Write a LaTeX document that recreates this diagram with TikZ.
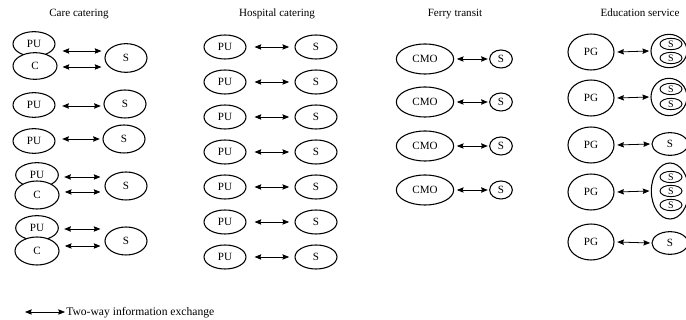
\documentclass[tikz,border=0pt]{standalone}
\usepackage{fontspec}
\setmainfont{Liberation Serif}
\usetikzlibrary{shapes.geometric,arrows.meta}

\begin{document}
\begin{tikzpicture}[x=0.75pt,y=-0.75pt,
  oval/.style={ellipse,draw,line width=0.8pt,inner sep=0pt,fill=white,font=\fontsize{8.3}{9}\selectfont},
  puoval/.style={oval,minimum width=31.5pt,minimum height=18.5pt},
  coval/.style={oval,minimum width=33pt,minimum height=20pt},
  sbig/.style={oval,minimum width=31.5pt,minimum height=21.5pt},
  hoval/.style={oval,minimum width=31.5pt,minimum height=18pt},
  cmo/.style={oval,minimum width=43pt,minimum height=22.5pt},
  ssmall/.style={oval,minimum width=17pt,minimum height=13.5pt},
  pg/.style={oval,minimum width=34.5pt,minimum height=27pt},
  sin/.style={oval,line width=0.7pt,minimum width=16.5pt,minimum height=8.5pt,font=\fontsize{7.5}{8}\selectfont},
  sgrp/.style={oval,minimum width=27pt},
  link/.style={{Stealth[length=5pt,width=4pt,inset=0.6pt]}-{Stealth[length=5pt,width=4pt,inset=0.6pt]},line width=0.6pt},
  heading/.style={font=\fontsize{8.3}{10}\selectfont}]
\useasboundingbox (0,0) rectangle (686,320);
\clip (0,0) rectangle (686,320);

% column headings
\node[heading] (tcare) at (79,14) {Care catering};
\node[heading] (thosp) at (277,14) {Hospital catering};
\node[heading] (tferry) at (455,14) {Ferry transit};
\node[heading] (tedu) at (640,13) {Education service};

% ---- Care catering ----
\node[puoval] (cp1) at (34,44) {PU};
\node[coval]  (cc1) at (35,66) {C};
\node[sbig]   (cs1) at (126,58) {S};
\draw[link] ([shift={(7,7)}]cp1.east) -- ([shift={(-3,-7)}]cs1.west);
\draw[link] ([shift={(5,1)}]cc1.east) -- ([shift={(-3,9)}]cs1.west);

\node[puoval] (cp2) at (34,105) {PU};
\node[sbig,minimum height=21pt] (cs2) at (125,104) {S};
\draw[link] ([xshift=5]cp2.east |- 0,106) -- ([xshift=-2]cs2.west |- 0,106);

\node[puoval] (cp3) at (34,141) {PU};
\node[sbig,minimum height=21pt] (cs3) at (124,139) {S};
\draw[link] ([xshift=5]cp3.east |- 0,139) -- ([xshift=-2]cs3.west |- 0,139);

\node[puoval,minimum width=32pt] (cp4) at (37,175) {PU};
\node[coval,minimum height=21pt] (cc4) at (37,195) {C};
\node[sbig,minimum height=21pt] (cs4) at (126,186) {S};
\draw[link] ([xshift=4]cp4.east |- 0,177) -- ([xshift=-3]cs4.west |- 0,177);
\draw[link] ([xshift=4]cc4.east |- 0,192) -- ([xshift=-3]cs4.west |- 0,192);

\node[puoval,minimum width=32pt] (cp5) at (37,228) {PU};
\node[coval,minimum height=21pt] (cc5) at (37,251) {C};
\node[sbig,minimum height=21pt] (cs5) at (126,241) {S};
\draw[link] ([xshift=4]cp5.east |- 0,229) -- ([xshift=-3]cs5.west |- 0,229);
\draw[link] ([xshift=4]cc5.east |- 0,246) -- ([xshift=-3]cs5.west |- 0,246);

% ---- Hospital catering ----
\foreach \i/\y in {1/47,2/82,3/117,4/152,5/187,6/222,7/257}{
  \node[hoval] (hp\i) at (225,\y) {PU};
  \node[hoval] (hs\i) at (316,\y) {S};
  \draw[link] ([xshift=6]hp\i.east) -- ([xshift=-4]hs\i.west);
}

% ---- Ferry transit ----
\foreach \i/\y in {1/59,2/102,3/146,4/190}{
  \node[cmo] (fc\i) at (425,\y) {CMO};
  \node[ssmall] (fs\i) at (501,\y) {S};
  \draw[link] ([xshift=2]fc\i.east) -- ([xshift=-1]fs\i.west);
}

% ---- Education service ----
\foreach \i/\y in {1/52,2/98,3/145,4/192,5/242}{
  \node[pg] (ep\i) at (591,\y) {PG};
}
% grouped suppliers
\node[sgrp,minimum height=25pt] (eg1) at (669,51) {};
\node[sin] (es11) at (671,44) {S};
\node[sin] (es12) at (671,58) {S};
\node[sgrp,minimum height=28pt] (eg2) at (669,97) {};
\node[sin] (es21) at (671,89) {S};
\node[sin] (es22) at (671,104) {S};
\node[sgrp,minimum height=17pt] (eg3) at (670,144) {S};
\node[sgrp,minimum width=28pt,minimum height=42pt] (eg4) at (670,191) {};
\node[sin] (es41) at (671,177) {S};
\node[sin] (es42) at (671,191) {S};
\node[sin] (es43) at (671,205) {S};
\node[sgrp,minimum height=17pt] (eg5) at (670,243) {S};
\foreach \i in {1,...,5}{
  \draw[link] ([xshift=2]ep\i.east) -- ([xshift=-1]eg\i.west);
}

% ---- legend ----
\coordinate (la) at (25,312);
\coordinate (lb) at (65,312);
\draw[link] (la) -- (lb);
\node[anchor=west,inner sep=0pt,font=\fontsize{8.7}{10}\selectfont] (ltext) at (66,312.5) {Two-way information exchange};
\end{tikzpicture}
\end{document}
